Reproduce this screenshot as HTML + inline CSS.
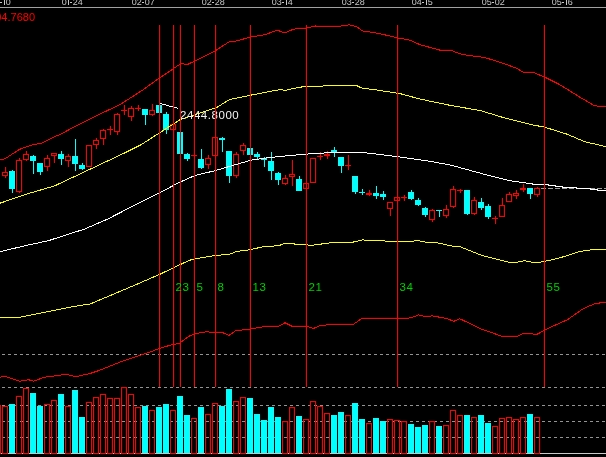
<!DOCTYPE html>
<html><head><meta charset="utf-8"><style>
html,body{margin:0;padding:0;background:#000;width:606px;height:457px;overflow:hidden;position:relative}
#wrap{position:absolute;left:0;top:0;width:606px;height:457px}
</style></head><body><div id="wrap">
<svg width="606" height="457" viewBox="0 0 606 457" style="position:absolute;left:0;top:0"><defs><filter id="bl" filterUnits="userSpaceOnUse" x="-12" y="-12" width="630" height="481" color-interpolation-filters="sRGB"><feColorMatrix in="SourceGraphic" type="matrix" values="0.299 0.587 0.114 0 0 0 0 0 0 0 0 0 0 0 0 0 0 0 1 0" result="Y"/><feColorMatrix in="SourceGraphic" type="matrix" values="0 0 0 0 0 -0.1687 -0.3313 0.5 0 0.5 0.5 -0.4187 -0.0813 0 0.5 0 0 0 1 0" result="C"/><feConvolveMatrix in="C" order="5" kernelMatrix="1 4 6 4 1 4 16 24 16 4 6 24 36 24 6 4 16 24 16 4 1 4 6 4 1" divisor="256" edgeMode="duplicate" preserveAlpha="true" result="CB"/><feComposite in="Y" in2="CB" operator="arithmetic" k1="0" k2="1" k3="1" k4="0" result="YC"/><feColorMatrix in="YC" type="matrix" values="1 0 1.402 0 -0.7038 1 -0.344 -0.714 0 0.5311 1 1.772 0 0 -0.8895 0 0 0 1 0"/></filter></defs><g filter="url(#bl)"><rect x="-12" y="-12" width="630" height="481" fill="#000"/><g font-family="Liberation Sans, sans-serif" font-size="9" fill="#c8c8c8"><text x="-8.3" y="5">0</text><rect x="-2" y="-2" width="1" height="7" fill="#c8c8c8"/><rect x="0" y="2" width="2" height="1" fill="#c8c8c8"/><rect x="4" y="-2" width="1" height="7" fill="#c8c8c8"/><text x="5.7" y="5">0</text><text x="61.7" y="5">0</text><rect x="68" y="-2" width="1" height="7" fill="#c8c8c8"/><rect x="70" y="2" width="2" height="1" fill="#c8c8c8"/><text x="72.7" y="5">2</text><text x="77.7" y="5">4</text><text x="131.7" y="5">0</text><text x="136.7" y="5">2</text><rect x="142" y="2" width="2" height="1" fill="#c8c8c8"/><text x="144.7" y="5">0</text><text x="149.7" y="5">7</text><text x="201.7" y="5">0</text><text x="206.7" y="5">2</text><rect x="212" y="2" width="2" height="1" fill="#c8c8c8"/><text x="214.7" y="5">2</text><text x="219.7" y="5">8</text><text x="271.7" y="5">0</text><text x="276.7" y="5">3</text><rect x="282" y="2" width="2" height="1" fill="#c8c8c8"/><rect x="286" y="-2" width="1" height="7" fill="#c8c8c8"/><text x="287.7" y="5">4</text><text x="341.7" y="5">0</text><text x="346.7" y="5">3</text><rect x="352" y="2" width="2" height="1" fill="#c8c8c8"/><text x="354.7" y="5">2</text><text x="359.7" y="5">8</text><text x="411.7" y="5">0</text><text x="416.7" y="5">4</text><rect x="422" y="2" width="2" height="1" fill="#c8c8c8"/><rect x="426" y="-2" width="1" height="7" fill="#c8c8c8"/><text x="427.7" y="5">5</text><text x="481.7" y="5">0</text><text x="486.7" y="5">5</text><rect x="492" y="2" width="2" height="1" fill="#c8c8c8"/><text x="494.7" y="5">0</text><text x="499.7" y="5">2</text><text x="551.7" y="5">0</text><text x="556.7" y="5">5</text><rect x="562" y="2" width="2" height="1" fill="#c8c8c8"/><rect x="566" y="-2" width="1" height="7" fill="#c8c8c8"/><text x="567.7" y="5">6</text></g><rect x="0" y="7" width="606" height="1" fill="#a0a0a0"/><text x="35" y="20.5" text-anchor="end" font-family="Liberation Sans, sans-serif" font-size="11" fill="#ff0000">2604.7680</text><line x1="0" y1="354.5" x2="606" y2="354.5" stroke="#939393" stroke-dasharray="3 3" stroke-dashoffset="4"/><line x1="0" y1="387.5" x2="606" y2="387.5" stroke="#939393" stroke-dasharray="3 3" stroke-dashoffset="4"/><line x1="0" y1="405.5" x2="606" y2="405.5" stroke="#939393" stroke-dasharray="3 3" stroke-dashoffset="4"/><line x1="0" y1="421.5" x2="606" y2="421.5" stroke="#939393" stroke-dasharray="3 3" stroke-dashoffset="4"/><line x1="0" y1="437.5" x2="606" y2="437.5" stroke="#939393" stroke-dasharray="3 3" stroke-dashoffset="4"/><line x1="541" y1="188.5" x2="606" y2="188.5" stroke="#a0a0a0" stroke-dasharray="5 2"/><rect x="0" y="453" width="606" height="1" fill="#c8c8c8"/><g shape-rendering="crispEdges"><rect x="-4.5" y="405.5" width="5" height="47.5" fill="none" stroke="#ff0000"/><rect x="2.5" y="406.5" width="5" height="46.5" fill="none" stroke="#ff0000"/><rect x="9" y="404" width="6" height="49" fill="#00ffff"/><rect x="16.5" y="396.5" width="5" height="56.5" fill="none" stroke="#ff0000"/><rect x="23.5" y="388.5" width="5" height="64.5" fill="none" stroke="#ff0000"/><rect x="30" y="393" width="6" height="60" fill="#00ffff"/><rect x="37" y="406" width="6" height="47" fill="#00ffff"/><rect x="44.5" y="404.5" width="5" height="48.5" fill="none" stroke="#ff0000"/><rect x="51.5" y="400.5" width="5" height="52.5" fill="none" stroke="#ff0000"/><rect x="58" y="394" width="6" height="59" fill="#00ffff"/><rect x="65.5" y="406.5" width="5" height="46.5" fill="none" stroke="#ff0000"/><rect x="72" y="390" width="6" height="63" fill="#00ffff"/><rect x="79" y="417" width="6" height="36" fill="#00ffff"/><rect x="86.5" y="402.5" width="5" height="50.5" fill="none" stroke="#ff0000"/><rect x="93.5" y="397.5" width="5" height="55.5" fill="none" stroke="#ff0000"/><rect x="100.5" y="394.5" width="5" height="58.5" fill="none" stroke="#ff0000"/><rect x="107.5" y="398.5" width="5" height="54.5" fill="none" stroke="#ff0000"/><rect x="114.5" y="398.5" width="5" height="54.5" fill="none" stroke="#ff0000"/><rect x="121.5" y="387.5" width="5" height="65.5" fill="none" stroke="#ff0000"/><rect x="128.5" y="394.5" width="5" height="58.5" fill="none" stroke="#ff0000"/><rect x="135.5" y="407.5" width="5" height="45.5" fill="none" stroke="#ff0000"/><rect x="142" y="406" width="6" height="47" fill="#00ffff"/><rect x="149.5" y="410.5" width="5" height="42.5" fill="none" stroke="#ff0000"/><rect x="156" y="407" width="6" height="46" fill="#00ffff"/><rect x="163" y="404" width="6" height="49" fill="#00ffff"/><rect x="170.5" y="410.5" width="5" height="42.5" fill="none" stroke="#ff0000"/><rect x="177" y="396" width="6" height="57" fill="#00ffff"/><rect x="184" y="415" width="6" height="38" fill="#00ffff"/><rect x="191.5" y="418.5" width="5" height="34.5" fill="none" stroke="#ff0000"/><rect x="198" y="407" width="6" height="46" fill="#00ffff"/><rect x="205.5" y="414.5" width="5" height="38.5" fill="none" stroke="#ff0000"/><rect x="212.5" y="403.5" width="5" height="49.5" fill="none" stroke="#ff0000"/><rect x="219" y="406" width="6" height="47" fill="#00ffff"/><rect x="226" y="389" width="6" height="64" fill="#00ffff"/><rect x="233.5" y="401.5" width="5" height="51.5" fill="none" stroke="#ff0000"/><rect x="240.5" y="397.5" width="5" height="55.5" fill="none" stroke="#ff0000"/><rect x="247" y="398" width="6" height="55" fill="#00ffff"/><rect x="254" y="414" width="6" height="39" fill="#00ffff"/><rect x="261" y="420" width="6" height="33" fill="#00ffff"/><rect x="268" y="407" width="6" height="46" fill="#00ffff"/><rect x="275" y="417" width="6" height="36" fill="#00ffff"/><rect x="282.5" y="421.5" width="5" height="31.5" fill="none" stroke="#ff0000"/><rect x="289.5" y="407.5" width="5" height="45.5" fill="none" stroke="#ff0000"/><rect x="296" y="416" width="6" height="37" fill="#00ffff"/><rect x="303.5" y="419.5" width="5" height="33.5" fill="none" stroke="#ff0000"/><rect x="310.5" y="401.5" width="5" height="51.5" fill="none" stroke="#ff0000"/><rect x="317.5" y="406.5" width="5" height="46.5" fill="none" stroke="#ff0000"/><rect x="324.5" y="413.5" width="5" height="39.5" fill="none" stroke="#ff0000"/><rect x="331" y="415" width="6" height="38" fill="#00ffff"/><rect x="338" y="412" width="6" height="41" fill="#00ffff"/><rect x="345.5" y="415.5" width="5" height="37.5" fill="none" stroke="#ff0000"/><rect x="352" y="403" width="6" height="50" fill="#00ffff"/><rect x="359" y="419" width="6" height="34" fill="#00ffff"/><rect x="366.5" y="423.5" width="5" height="29.5" fill="none" stroke="#ff0000"/><rect x="373" y="418" width="6" height="35" fill="#00ffff"/><rect x="380" y="421" width="6" height="32" fill="#00ffff"/><rect x="387.5" y="419.5" width="5" height="33.5" fill="none" stroke="#ff0000"/><rect x="394.5" y="420.5" width="5" height="32.5" fill="none" stroke="#ff0000"/><rect x="401.5" y="421.5" width="5" height="31.5" fill="none" stroke="#ff0000"/><rect x="408" y="424" width="6" height="29" fill="#00ffff"/><rect x="415" y="427" width="6" height="26" fill="#00ffff"/><rect x="422" y="425" width="6" height="28" fill="#00ffff"/><rect x="429.5" y="421.5" width="5" height="31.5" fill="none" stroke="#ff0000"/><rect x="436" y="426" width="6" height="27" fill="#00ffff"/><rect x="443.5" y="425.5" width="5" height="27.5" fill="none" stroke="#ff0000"/><rect x="450.5" y="410.5" width="5" height="42.5" fill="none" stroke="#ff0000"/><rect x="457.5" y="415.5" width="5" height="37.5" fill="none" stroke="#ff0000"/><rect x="464" y="415" width="6" height="38" fill="#00ffff"/><rect x="471.5" y="417.5" width="5" height="35.5" fill="none" stroke="#ff0000"/><rect x="478" y="415" width="6" height="38" fill="#00ffff"/><rect x="485" y="423" width="6" height="30" fill="#00ffff"/><rect x="492.5" y="426.5" width="5" height="26.5" fill="none" stroke="#ff0000"/><rect x="499.5" y="418.5" width="5" height="34.5" fill="none" stroke="#ff0000"/><rect x="506.5" y="417.5" width="5" height="35.5" fill="none" stroke="#ff0000"/><rect x="513.5" y="419.5" width="5" height="33.5" fill="none" stroke="#ff0000"/><rect x="520.5" y="417.5" width="5" height="35.5" fill="none" stroke="#ff0000"/><rect x="527" y="414" width="6" height="39" fill="#00ffff"/><rect x="534.5" y="417.5" width="5" height="35.5" fill="none" stroke="#ff0000"/></g><g shape-rendering="crispEdges"><rect x="5" y="167" width="1" height="5" fill="#ff0000"/><rect x="5" y="176" width="1" height="2" fill="#ff0000"/><rect x="2.5" y="172.5" width="5" height="3" fill="none" stroke="#ff0000"/><rect x="12" y="170" width="1" height="1" fill="#00ffff"/><rect x="12" y="189" width="1" height="4" fill="#00ffff"/><rect x="9" y="171" width="6" height="18" fill="#00ffff"/><rect x="19" y="158" width="1" height="2" fill="#ff0000"/><rect x="19" y="192" width="1" height="1" fill="#ff0000"/><rect x="16.5" y="160.5" width="5" height="31" fill="none" stroke="#ff0000"/><rect x="26" y="151" width="1" height="3" fill="#ff0000"/><rect x="26" y="160" width="1" height="1" fill="#ff0000"/><rect x="23.5" y="154.5" width="5" height="5" fill="none" stroke="#ff0000"/><rect x="33" y="155" width="1" height="1" fill="#00ffff"/><rect x="33" y="161" width="1" height="13" fill="#00ffff"/><rect x="30" y="156" width="6" height="5" fill="#00ffff"/><rect x="40" y="172" width="1" height="3" fill="#00ffff"/><rect x="37" y="163" width="6" height="9" fill="#00ffff"/><rect x="47" y="155" width="1" height="3" fill="#ff0000"/><rect x="47" y="167" width="1" height="4" fill="#ff0000"/><rect x="44.5" y="158.5" width="5" height="8" fill="none" stroke="#ff0000"/><rect x="54" y="156" width="1" height="7" fill="#ff0000"/><rect x="51.5" y="153.5" width="5" height="2" fill="none" stroke="#ff0000"/><rect x="61" y="151" width="1" height="3" fill="#00ffff"/><rect x="61" y="159" width="1" height="6" fill="#00ffff"/><rect x="58" y="154" width="6" height="5" fill="#00ffff"/><rect x="68" y="154" width="1" height="2" fill="#ff0000"/><rect x="68" y="161" width="1" height="6" fill="#ff0000"/><rect x="65.5" y="156.5" width="5" height="4" fill="none" stroke="#ff0000"/><rect x="75" y="139" width="1" height="17" fill="#00ffff"/><rect x="75" y="164" width="1" height="7" fill="#00ffff"/><rect x="72" y="156" width="6" height="8" fill="#00ffff"/><rect x="82" y="163" width="1" height="2" fill="#00ffff"/><rect x="82" y="169" width="1" height="1" fill="#00ffff"/><rect x="79" y="165" width="6" height="4" fill="#00ffff"/><rect x="86.5" y="145.5" width="5" height="21" fill="none" stroke="#ff0000"/><rect x="96" y="138" width="1" height="2" fill="#ff0000"/><rect x="96" y="145" width="1" height="4" fill="#ff0000"/><rect x="93.5" y="140.5" width="5" height="4" fill="none" stroke="#ff0000"/><rect x="103" y="129" width="1" height="1" fill="#ff0000"/><rect x="103" y="139" width="1" height="6" fill="#ff0000"/><rect x="100.5" y="130.5" width="5" height="8" fill="none" stroke="#ff0000"/><rect x="110" y="126" width="1" height="3" fill="#ff0000"/><rect x="110" y="130" width="1" height="5" fill="#ff0000"/><rect x="107" y="129" width="6" height="1" fill="#ff0000"/><rect x="117" y="113" width="1" height="1" fill="#ff0000"/><rect x="117" y="132" width="1" height="3" fill="#ff0000"/><rect x="114.5" y="114.5" width="5" height="17" fill="none" stroke="#ff0000"/><rect x="124" y="105" width="1" height="5" fill="#ff0000"/><rect x="124" y="111" width="1" height="4" fill="#ff0000"/><rect x="121" y="110" width="6" height="1" fill="#ff0000"/><rect x="131" y="106" width="1" height="2" fill="#ff0000"/><rect x="131" y="117" width="1" height="4" fill="#ff0000"/><rect x="128.5" y="108.5" width="5" height="8" fill="none" stroke="#ff0000"/><rect x="138" y="105" width="1" height="3" fill="#ff0000"/><rect x="138" y="109" width="1" height="2" fill="#ff0000"/><rect x="135" y="108" width="6" height="1" fill="#ff0000"/><rect x="145" y="115" width="1" height="10" fill="#00ffff"/><rect x="142" y="109" width="6" height="6" fill="#00ffff"/><rect x="152" y="104" width="1" height="6" fill="#ff0000"/><rect x="152" y="115" width="1" height="1" fill="#ff0000"/><rect x="149.5" y="110.5" width="5" height="4" fill="none" stroke="#ff0000"/><rect x="156" y="105" width="6" height="8" fill="#00ffff"/><rect x="166" y="112" width="1" height="2" fill="#00ffff"/><rect x="166" y="130" width="1" height="4" fill="#00ffff"/><rect x="163" y="114" width="6" height="16" fill="#00ffff"/><rect x="170.5" y="124.5" width="5" height="5" fill="none" stroke="#ff0000"/><rect x="177" y="132" width="6" height="22" fill="#00ffff"/><rect x="187" y="153" width="1" height="1" fill="#00ffff"/><rect x="187" y="159" width="1" height="2" fill="#00ffff"/><rect x="184" y="154" width="6" height="5" fill="#00ffff"/><rect x="194" y="148" width="1" height="7" fill="#ff0000"/><rect x="194" y="156" width="1" height="1" fill="#ff0000"/><rect x="191" y="155" width="6" height="1" fill="#ff0000"/><rect x="201" y="149" width="1" height="10" fill="#00ffff"/><rect x="201" y="168" width="1" height="1" fill="#00ffff"/><rect x="198" y="159" width="6" height="9" fill="#00ffff"/><rect x="208" y="155" width="1" height="3" fill="#ff0000"/><rect x="208" y="165" width="1" height="4" fill="#ff0000"/><rect x="205.5" y="158.5" width="5" height="6" fill="none" stroke="#ff0000"/><rect x="215" y="135" width="1" height="2" fill="#ff0000"/><rect x="215" y="156" width="1" height="1" fill="#ff0000"/><rect x="212.5" y="137.5" width="5" height="18" fill="none" stroke="#ff0000"/><rect x="222" y="137" width="1" height="1" fill="#00ffff"/><rect x="222" y="140" width="1" height="12" fill="#00ffff"/><rect x="219" y="138" width="6" height="2" fill="#00ffff"/><rect x="229" y="176" width="1" height="7" fill="#00ffff"/><rect x="226" y="151" width="6" height="25" fill="#00ffff"/><rect x="236" y="152" width="1" height="2" fill="#ff0000"/><rect x="236" y="176" width="1" height="2" fill="#ff0000"/><rect x="233.5" y="154.5" width="5" height="21" fill="none" stroke="#ff0000"/><rect x="243" y="143" width="1" height="2" fill="#ff0000"/><rect x="243" y="151" width="1" height="4" fill="#ff0000"/><rect x="240.5" y="145.5" width="5" height="5" fill="none" stroke="#ff0000"/><rect x="247" y="148" width="6" height="7" fill="#00ffff"/><rect x="257" y="152" width="1" height="2" fill="#00ffff"/><rect x="257" y="157" width="1" height="2" fill="#00ffff"/><rect x="254" y="154" width="6" height="3" fill="#00ffff"/><rect x="264" y="157" width="1" height="1" fill="#00ffff"/><rect x="264" y="160" width="1" height="7" fill="#00ffff"/><rect x="261" y="158" width="6" height="2" fill="#00ffff"/><rect x="271" y="152" width="1" height="9" fill="#00ffff"/><rect x="271" y="171" width="1" height="9" fill="#00ffff"/><rect x="268" y="161" width="6" height="10" fill="#00ffff"/><rect x="278" y="172" width="1" height="1" fill="#00ffff"/><rect x="278" y="180" width="1" height="5" fill="#00ffff"/><rect x="275" y="173" width="6" height="7" fill="#00ffff"/><rect x="285" y="175" width="1" height="3" fill="#ff0000"/><rect x="285" y="184" width="1" height="1" fill="#ff0000"/><rect x="282.5" y="178.5" width="5" height="5" fill="none" stroke="#ff0000"/><rect x="292" y="160" width="1" height="14" fill="#ff0000"/><rect x="292" y="177" width="1" height="9" fill="#ff0000"/><rect x="289.5" y="174.5" width="5" height="2" fill="none" stroke="#ff0000"/><rect x="299" y="176" width="1" height="3" fill="#00ffff"/><rect x="296" y="179" width="6" height="12" fill="#00ffff"/><rect x="303.5" y="183.5" width="5" height="5" fill="none" stroke="#ff0000"/><rect x="310.5" y="158.5" width="5" height="24" fill="none" stroke="#ff0000"/><rect x="320" y="152" width="1" height="4" fill="#ff0000"/><rect x="320" y="157" width="1" height="3" fill="#ff0000"/><rect x="317" y="156" width="6" height="1" fill="#ff0000"/><rect x="327" y="151" width="1" height="3" fill="#ff0000"/><rect x="327" y="156" width="1" height="3" fill="#ff0000"/><rect x="324.5" y="154.5" width="5" height="1" fill="none" stroke="#ff0000"/><rect x="334" y="147" width="1" height="3" fill="#00ffff"/><rect x="334" y="153" width="1" height="4" fill="#00ffff"/><rect x="331" y="150" width="6" height="3" fill="#00ffff"/><rect x="341" y="166" width="1" height="7" fill="#00ffff"/><rect x="338" y="157" width="6" height="9" fill="#00ffff"/><rect x="348" y="155" width="1" height="10" fill="#ff0000"/><rect x="348" y="166" width="1" height="4" fill="#ff0000"/><rect x="345" y="165" width="6" height="1" fill="#ff0000"/><rect x="355" y="192" width="1" height="2" fill="#00ffff"/><rect x="352" y="176" width="6" height="16" fill="#00ffff"/><rect x="362" y="189" width="1" height="3" fill="#00ffff"/><rect x="362" y="193" width="1" height="2" fill="#00ffff"/><rect x="359" y="192" width="6" height="1" fill="#00ffff"/><rect x="369" y="190" width="1" height="3" fill="#ff0000"/><rect x="369" y="195" width="1" height="1" fill="#ff0000"/><rect x="366.5" y="193.5" width="5" height="1" fill="none" stroke="#ff0000"/><rect x="376" y="186" width="1" height="7" fill="#00ffff"/><rect x="376" y="196" width="1" height="3" fill="#00ffff"/><rect x="373" y="193" width="6" height="3" fill="#00ffff"/><rect x="383" y="191" width="1" height="3" fill="#00ffff"/><rect x="383" y="197" width="1" height="3" fill="#00ffff"/><rect x="380" y="194" width="6" height="3" fill="#00ffff"/><rect x="390" y="209" width="1" height="7" fill="#ff0000"/><rect x="387.5" y="202.5" width="5" height="6" fill="none" stroke="#ff0000"/><rect x="394.5" y="197.5" width="5" height="3" fill="none" stroke="#ff0000"/><rect x="404" y="195" width="1" height="2" fill="#ff0000"/><rect x="404" y="198" width="1" height="3" fill="#ff0000"/><rect x="401" y="197" width="6" height="1" fill="#ff0000"/><rect x="411" y="190" width="1" height="2" fill="#00ffff"/><rect x="411" y="199" width="1" height="1" fill="#00ffff"/><rect x="408" y="192" width="6" height="7" fill="#00ffff"/><rect x="418" y="198" width="1" height="2" fill="#00ffff"/><rect x="418" y="205" width="1" height="1" fill="#00ffff"/><rect x="415" y="200" width="6" height="5" fill="#00ffff"/><rect x="425" y="207" width="1" height="1" fill="#00ffff"/><rect x="425" y="215" width="1" height="2" fill="#00ffff"/><rect x="422" y="208" width="6" height="7" fill="#00ffff"/><rect x="432" y="209" width="1" height="1" fill="#ff0000"/><rect x="432" y="220" width="1" height="2" fill="#ff0000"/><rect x="429.5" y="210.5" width="5" height="9" fill="none" stroke="#ff0000"/><rect x="439" y="211" width="1" height="6" fill="#00ffff"/><rect x="436" y="210" width="6" height="1" fill="#00ffff"/><rect x="446" y="205" width="1" height="4" fill="#ff0000"/><rect x="446" y="216" width="1" height="2" fill="#ff0000"/><rect x="443.5" y="209.5" width="5" height="6" fill="none" stroke="#ff0000"/><rect x="453" y="186" width="1" height="3" fill="#ff0000"/><rect x="453" y="207" width="1" height="1" fill="#ff0000"/><rect x="450.5" y="189.5" width="5" height="17" fill="none" stroke="#ff0000"/><rect x="460" y="189" width="1" height="1" fill="#ff0000"/><rect x="460" y="191" width="1" height="2" fill="#ff0000"/><rect x="457" y="190" width="6" height="1" fill="#ff0000"/><rect x="467" y="214" width="1" height="1" fill="#00ffff"/><rect x="464" y="190" width="6" height="24" fill="#00ffff"/><rect x="474" y="197" width="1" height="3" fill="#ff0000"/><rect x="474" y="214" width="1" height="1" fill="#ff0000"/><rect x="471.5" y="200.5" width="5" height="13" fill="none" stroke="#ff0000"/><rect x="481" y="198" width="1" height="4" fill="#00ffff"/><rect x="481" y="208" width="1" height="2" fill="#00ffff"/><rect x="478" y="202" width="6" height="6" fill="#00ffff"/><rect x="488" y="204" width="1" height="2" fill="#00ffff"/><rect x="488" y="217" width="1" height="2" fill="#00ffff"/><rect x="485" y="206" width="6" height="11" fill="#00ffff"/><rect x="495" y="216" width="1" height="2" fill="#ff0000"/><rect x="495" y="219" width="1" height="5" fill="#ff0000"/><rect x="492" y="218" width="6" height="1" fill="#ff0000"/><rect x="502" y="198" width="1" height="7" fill="#ff0000"/><rect x="499.5" y="205.5" width="5" height="11" fill="none" stroke="#ff0000"/><rect x="509" y="192" width="1" height="2" fill="#ff0000"/><rect x="506.5" y="194.5" width="5" height="7" fill="none" stroke="#ff0000"/><rect x="516" y="190" width="1" height="3" fill="#ff0000"/><rect x="516" y="196" width="1" height="3" fill="#ff0000"/><rect x="513.5" y="193.5" width="5" height="2" fill="none" stroke="#ff0000"/><rect x="523" y="184" width="1" height="4" fill="#ff0000"/><rect x="523" y="190" width="1" height="2" fill="#ff0000"/><rect x="520.5" y="188.5" width="5" height="1" fill="none" stroke="#ff0000"/><rect x="530" y="194" width="1" height="5" fill="#00ffff"/><rect x="527" y="188" width="6" height="6" fill="#00ffff"/><rect x="537" y="187" width="1" height="1" fill="#ff0000"/><rect x="537" y="195" width="1" height="2" fill="#ff0000"/><rect x="534.5" y="188.5" width="5" height="6" fill="none" stroke="#ff0000"/></g><path d="M0.0,159.2 L4.0,159.2 L9.0,156.2 L18.0,150.3 L22.0,148.3 L30.0,145.8 L33.0,144.7 L38.0,143.9 L42.0,142.9 L47.5,140.4 L55.4,136.4 L60.0,134.5 L72.6,127.8 L100.0,114.0 L119.6,104.9 L142.7,90.0 L159.4,78.0 L181.7,63.1 L186.6,64.9 L194.0,61.4 L215.3,50.7 L228.7,42.1 L237.4,40.8 L250.0,37.1 L264.9,34.7 L277.2,30.2 L284.7,32.9 L293.3,29.2 L306.9,28.0 L315.6,26.0 L336.6,26.7 L349.0,24.8 L356.4,26.5 L362.6,30.9 L378.7,33.4 L400.0,38.4 L409.9,40.1 L419.8,44.6 L442.0,50.7 L452.0,50.7 L461.9,54.5 L484.2,57.4 L499.0,61.9 L516.3,68.1 L523.8,72.5 L534.0,72.7 L545.1,77.3 L560.0,84.8 L579.8,97.1 L594.6,105.8 L606.0,107.0" fill="none" stroke="#ff0000" stroke-width="1" shape-rendering="crispEdges"/><path d="M0.0,203.2 L24.8,194.6 L54.5,185.9 L76.7,175.5 L99.0,165.0 L120.0,155.2 L141.0,144.8 L180.0,119.7 L216.3,107.7 L229.4,99.6 L250.0,95.3 L279.7,89.6 L285.9,90.3 L299.5,87.1 L336.6,85.4 L356.4,85.4 L361.4,87.9 L378.7,90.3 L400.0,93.6 L419.8,99.0 L449.5,105.2 L480.8,110.7 L505.5,118.2 L530.3,124.4 L545.1,127.3 L567.4,134.3 L584.7,141.7 L606.0,146.6" fill="none" stroke="#ffff00" stroke-width="1" shape-rendering="crispEdges"/><path d="M0.0,251.7 L24.8,245.8 L48.3,240.7 L84.2,229.2 L107.2,219.3 L133.7,205.7 L159.2,192.9 L180.0,182.1 L194.8,175.5 L215.4,170.6 L236.0,164.5 L250.9,160.2 L270.0,157.5 L289.7,155.5 L309.5,153.9 L331.0,152.6 L365.7,152.8 L399.5,156.9 L429.2,161.2 L450.0,164.9 L489.5,175.7 L509.3,180.6 L520.0,182.2 L536.0,184.5 L548.0,184.5 L548.0,185.5 L555.0,185.5 L555.0,186.5 L562.0,186.5 L562.0,187.5 L576.0,187.5 L576.0,188.5 L590.0,188.5 L590.0,189.5 L597.0,189.5 L597.0,190.5 L606.0,190.5" fill="none" stroke="#ffffff" stroke-width="1" shape-rendering="crispEdges"/><path d="M0.0,318.0 L19.8,317.2 L34.7,314.3 L69.3,307.3 L90.3,303.9 L113.9,294.0 L136.1,284.6 L159.8,274.3 L183.3,263.1 L192.0,259.4 L214.3,255.7 L230.3,254.0 L236.5,251.5 L251.4,249.5 L263.8,246.5 L278.6,245.8 L284.8,243.3 L312.2,245.3 L329.5,242.9 L351.8,242.4 L362.9,239.9 L369.1,240.6 L388.9,241.1 L408.7,241.9 L417.4,240.4 L423.6,241.9 L438.4,243.0 L452.2,246.1 L458.4,246.1 L481.4,255.3 L512.1,263.0 L524.4,260.8 L536.6,263.0 L558.1,258.4 L579.6,251.6 L595.0,249.2 L606.0,249.8" fill="none" stroke="#ffff00" stroke-width="1" shape-rendering="crispEdges"/><path d="M0.0,377.2 L5.0,376.2 L19.8,381.2 L28.5,379.7 L33.4,381.2 L44.6,377.2 L66.8,374.3 L75.5,376.7 L89.1,373.8 L99.0,370.5 L123.8,360.6 L141.1,355.0 L150.0,352.0 L159.8,348.3 L172.2,344.6 L179.6,343.3 L189.5,335.9 L196.9,333.4 L206.8,331.7 L214.3,332.9 L221.7,332.2 L229.1,335.4 L235.3,330.9 L248.9,329.2 L263.8,326.7 L277.4,326.7 L285.0,322.8 L292.4,326.5 L307.2,326.5 L313.4,328.5 L320.8,325.3 L333.2,324.6 L353.0,324.6 L361.7,318.6 L396.3,318.6 L411.2,317.9 L418.6,314.9 L426.0,316.6 L432.3,315.8 L447.6,318.8 L453.8,321.3 L459.9,318.8 L481.4,329.0 L502.9,336.6 L518.2,336.0 L524.4,333.0 L536.6,334.5 L548.9,328.0 L567.3,319.8 L582.7,309.0 L595.0,303.5 L606.0,302.3" fill="none" stroke="#ff0000" stroke-width="1" shape-rendering="crispEdges"/><path d="M160,103.5 L178.5,108.5" stroke="#ffffff" fill="none" shape-rendering="crispEdges"/><text x="180" y="118.5" font-family="Liberation Sans, sans-serif" font-size="11.5" letter-spacing="0.55" fill="#f4f4f4">2444.8000</text><g shape-rendering="crispEdges"><rect x="159" y="25" width="1" height="362" fill="#ff0000"/><rect x="173" y="25" width="1" height="362" fill="#ff0000"/><rect x="180" y="25" width="1" height="362" fill="#ff0000"/><rect x="194" y="25" width="1" height="362" fill="#ff0000"/><rect x="215" y="25" width="1" height="362" fill="#ff0000"/><rect x="250" y="25" width="1" height="362" fill="#ff0000"/><rect x="306" y="25" width="1" height="362" fill="#ff0000"/><rect x="397" y="25" width="1" height="362" fill="#ff0000"/><rect x="544" y="25" width="1" height="362" fill="#ff0000"/></g><text x="175.5" y="291" font-family="Liberation Sans, sans-serif" font-size="11.5" letter-spacing="0.5" fill="#00d000">2</text><text x="182.5" y="291" font-family="Liberation Sans, sans-serif" font-size="11.5" letter-spacing="0.5" fill="#00d000">3</text><text x="196.5" y="291" font-family="Liberation Sans, sans-serif" font-size="11.5" letter-spacing="0.5" fill="#00d000">5</text><text x="217.5" y="291" font-family="Liberation Sans, sans-serif" font-size="11.5" letter-spacing="0.5" fill="#00d000">8</text><text x="252.5" y="291" font-family="Liberation Sans, sans-serif" font-size="11.5" letter-spacing="0.5" fill="#00d000">13</text><text x="308.5" y="291" font-family="Liberation Sans, sans-serif" font-size="11.5" letter-spacing="0.5" fill="#00d000">21</text><text x="399.5" y="291" font-family="Liberation Sans, sans-serif" font-size="11.5" letter-spacing="0.5" fill="#00d000">34</text><text x="546.5" y="291" font-family="Liberation Sans, sans-serif" font-size="11.5" letter-spacing="0.5" fill="#00d000">55</text></g></svg>
</div></body></html>
